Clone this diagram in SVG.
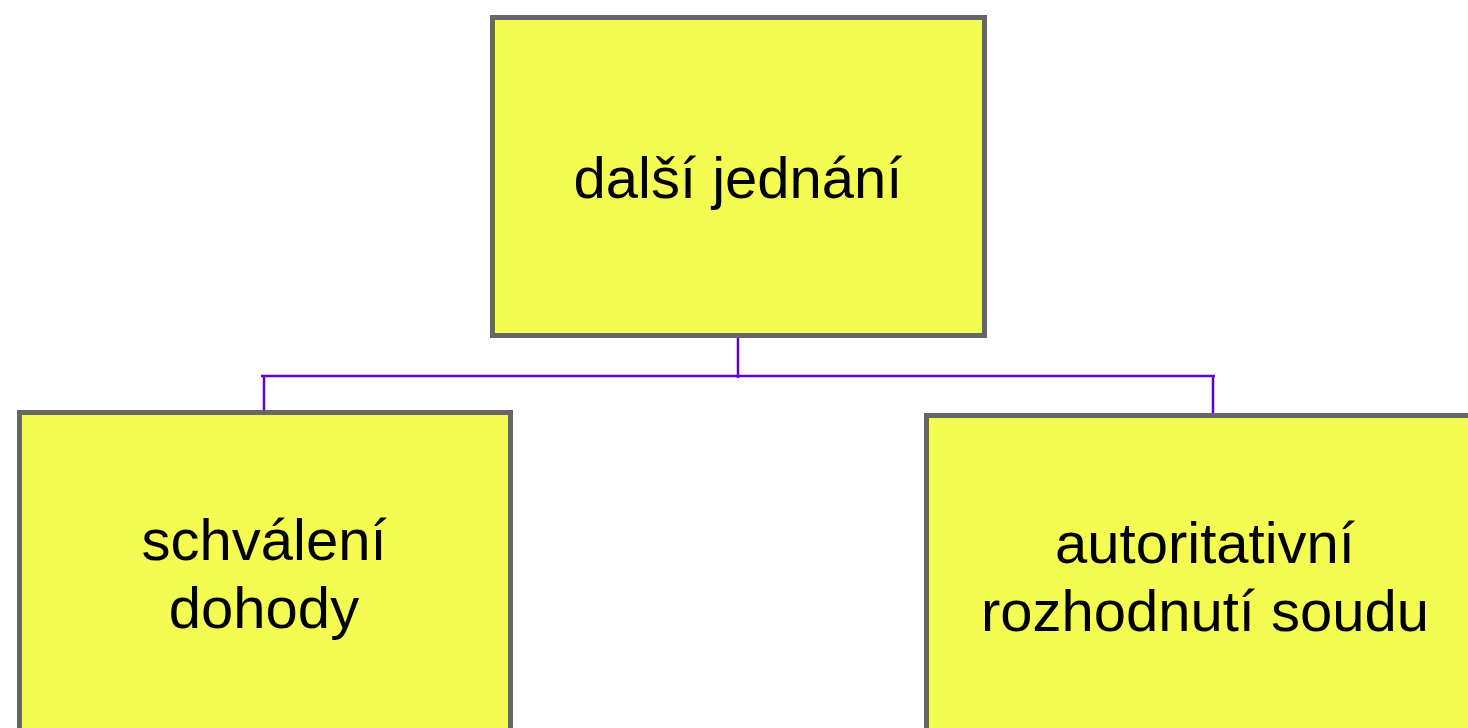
<svg xmlns="http://www.w3.org/2000/svg" width="1468" height="728" viewBox="0 0 1468 728">
<style>
.box{fill:#F4FC52;stroke:#666666;stroke-width:5}
.lbl{font-family:"Liberation Sans",Arial,Helvetica,sans-serif;font-size:58px;fill:#000;text-anchor:middle}
.con{stroke:#6100D4;stroke-width:2.5;fill:none}
</style>
<rect width="1468" height="728" fill="#ffffff"/>
<g id="connectors">
<path class="con" d="M738,338 V378 M261,376 H1215 M264,376 V410 M1213,376 V413"/>
</g>
<g id="node-top">
<rect class="box" x="492.5" y="17.5" width="492" height="318"/>
<text class="lbl" x="738" y="198">další jednání</text>
</g>
<g id="node-left">
<rect class="box" x="19.5" y="412.5" width="491" height="330"/>
<text class="lbl" x="264" y="560">schválení</text>
<text class="lbl" x="264" y="628">dohody</text>
</g>
<g id="node-right">
<rect class="box" x="926.5" y="415.5" width="560" height="330"/>
<text class="lbl" x="1205" y="563">autoritativní</text>
<text class="lbl" x="1205" y="631">rozhodnutí soudu</text>
</g>
</svg>
